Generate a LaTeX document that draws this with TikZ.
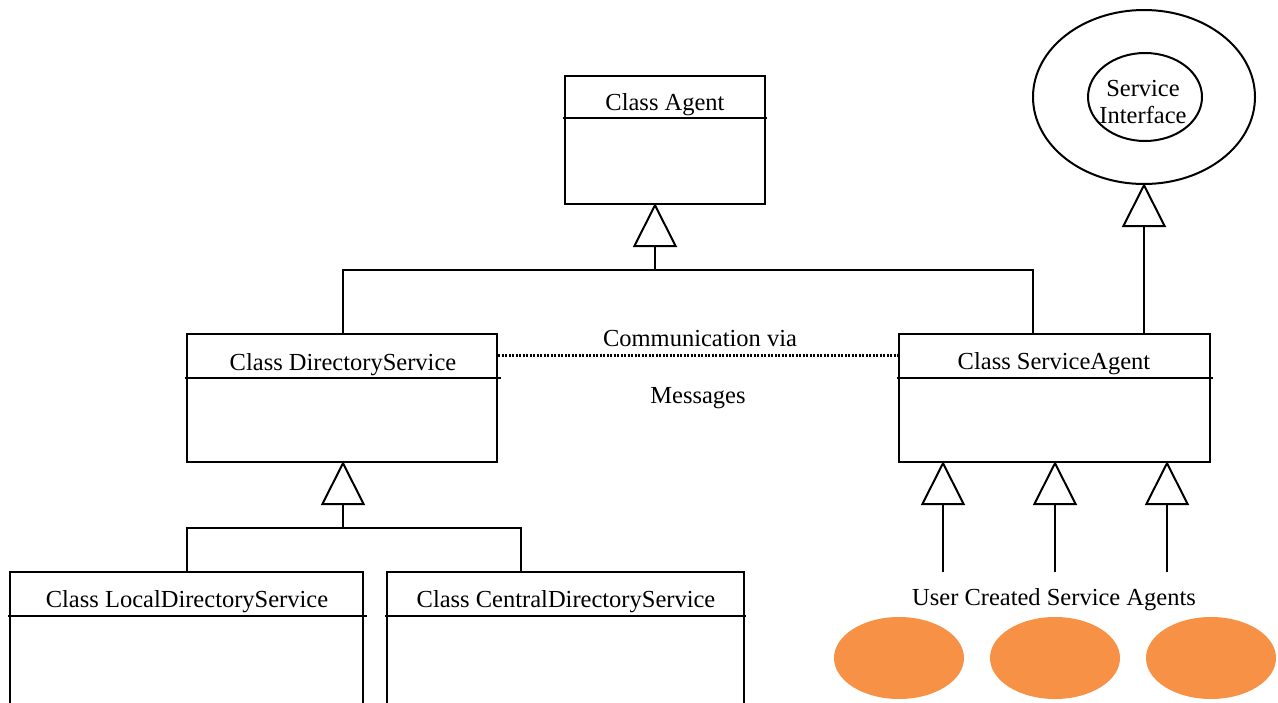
\documentclass[tikz,border=0pt]{standalone}
\usepackage{fontspec}
\setmainfont{Liberation Serif}
\usetikzlibrary{arrows.meta,shapes.geometric}
\definecolor{agentorange}{HTML}{F79146}
\tikzset{
  line/.style={line width=2pt, line cap=rect},
  classbox/.style={draw, line width=2pt, rectangle, inner sep=0pt},
  gen/.style={line width=2pt, shorten >=-2pt, -{Triangle[open, length=44pt, width=44pt, line width=2pt]}},
  label/.style={font=\fontsize{24.5}{27}\selectfont, inner sep=0pt},
  userag/.style={ellipse, fill=agentorange, minimum width=130pt, minimum height=82pt, inner sep=0pt},
  msgline/.style={line width=3pt, dash pattern=on 2pt off 1.5pt},
}
\begin{document}
\begin{tikzpicture}[x=1pt, y=-1pt]
\useasboundingbox (0,0) rectangle (1278,702);
\clip (0,0) rectangle (1278,702);

% class boxes (x: left..right, y: top..bottom in px)
\node[classbox, minimum width=200pt, minimum height=128pt] (agent) at (665,140) {};
\node[classbox, minimum width=310pt, minimum height=128pt] (dir) at (342,398) {};
\node[classbox, minimum width=311pt, minimum height=128pt] (sa) at (1054.5,398) {};
\node[classbox, minimum width=353pt, minimum height=160pt] (local) at (186.5,652) {};
\node[classbox, minimum width=357pt, minimum height=160pt] (central) at (565.5,652) {};

% header dividers
\draw[line] (agent.west |- 0,118) -- (agent.east |- 0,118);
\draw[line] (dir.west |- 0,378) -- (500,378);
\draw[line] (sa.west |- 0,378) -- (1212,378);
\draw[line] (local.west |- 0,616) -- (366,616);
\draw[line] (central.west |- 0,616) -- (central.east |- 0,616);

% class names
\node[label] (tagent) at (665,105) {Class Agent};
\node[label] (tdir) at (343,365) {Class DirectoryService};
\node[label] (tsa) at (1054,364) {Class ServiceAgent};
\node[label] (tlocal) at (187,602) {Class LocalDirectoryService};
\node[label] (tcentral) at (566,602) {Class CentralDirectoryService};

% inheritance: DirectoryService and ServiceAgent from Agent
\coordinate (j1) at (655,270);
\draw[line] (dir.north -| 343,0) |- (j1) -| (sa.north -| 1033,0);
\draw[gen] (j1) -- (agent.south -| j1);

% inheritance: Local/Central from DirectoryService
\coordinate (j2) at (343,528);
\draw[line] (local.north -| 187,0) |- (j2) -| (central.north -| 521,0);
\draw[gen] (j2) -- (dir.south -| j2);

% service interface
\node[draw, ellipse, line width=2pt, minimum width=222pt, minimum height=174pt, inner sep=0pt] (iface) at (1144,97) {};
\node[draw, ellipse, line width=2pt, minimum width=114pt, minimum height=88pt, inner sep=0pt] (iring) at (1145,97) {};
\node[label, align=center] (iname) at (1143,102) {Service\\Interface};
\draw[gen] (sa.north -| 1144,0) -- (iface.south);

% messages between directory service and service agents
\draw[msgline] (dir.east |- 0,355) -- (sa.west |- 0,355);
\node[label] (comm) at (700,339) {Communication via};
\node[label] (msgs) at (698,398) {Messages};

% user created service agents
\coordinate (u1) at (943,572);
\coordinate (u2) at (1055,572);
\coordinate (u3) at (1167,572);
\draw[gen] (u1) -- (sa.south -| u1);
\draw[gen] (u2) -- (sa.south -| u2);
\draw[gen] (u3) -- (sa.south -| u3);
\node[label] (uca) at (1054,600) {User Created Service Agents};
\node[userag] (a1) at (899,658) {};
\node[userag] (a2) at (1055,658) {};
\node[userag] (a3) at (1211,658) {};
\end{tikzpicture}
\end{document}
